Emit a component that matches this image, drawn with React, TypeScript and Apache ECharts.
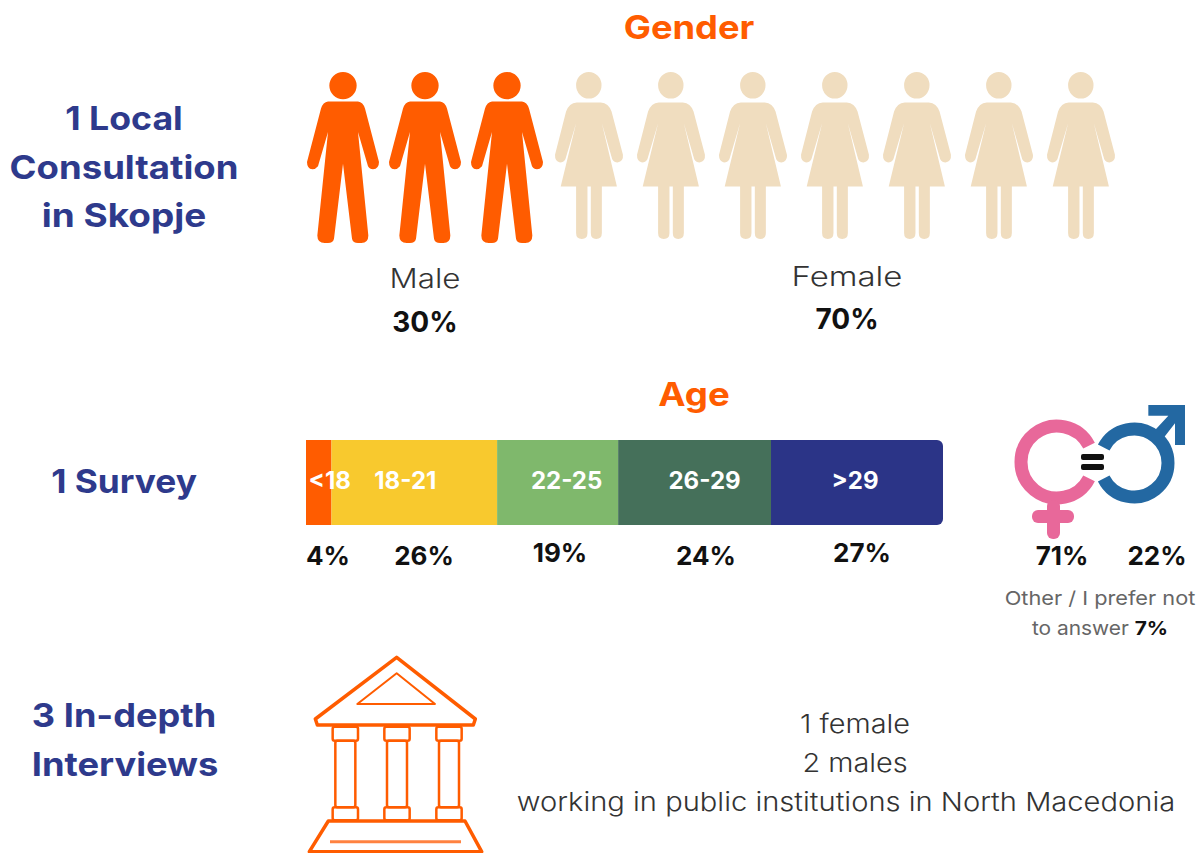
import React, { useEffect, useRef } from "react";
import * as echarts from "echarts";

const FONT = "Inter, 'Open Sans', sans-serif";
const ORANGE = "#FF5C00";
const NAVY = "#2E3A8C";

// data
const peopleSlots = ["p1", "p2", "p3", "p4", "p5", "p6", "p7", "p8", "p9", "p10"];
const malePeople = [1, 1, 1, null, null, null, null, null, null, null];
const femalePeople = [null, null, null, 1, 1, 1, 1, 1, 1, 1];
const genderNames = ["Male", "Female"];
const genderShares = [30, 70];
const ageGroups = ["<18", "18-21", "22-25", "26-29", ">29"];
const ageValues = [4, 26, 19, 24, 27];
const ageColors = [ORANGE, "#F8C92E", "#7FB86C", "#45705A", "#2B3487"];
const ageLabelOffsets = [11, -9, 9, 10, -2];
const agePercentX = [328, 424, 560, 706, 862];
const agePercentY = [555, 555, 552, 555, 552];
const interviewLines = ["1 female", "2 males", "working in public institutions in North Macedonia"];

const MALE_PATH =
  "path://M89,76a41,41 0 1,0 82,0a41,41 0 1,0 -82,0Z M85,124L175,124Q190,126 196,145L238,305Q238,325 220,327Q210,327 205,318L175,215L206,525Q206,547 185,548L175,548Q160,548 157,535L130,310L103,535Q100,548 85,548L75,548Q53,547 53,525L85,215L55,318Q48,327 38,327Q22,325 22,305L64,145Q70,126 85,124Z";
const FEMALE_PATH =
  "path://M828,76a38,40 0 1,0 76,0a38,40 0 1,0 -76,0Z M830,128L902,128Q925,130 934,155L968,285Q970,305 952,308Q942,308 936,298L905,190L950,380L905,380L905,520Q905,538 888,538Q872,538 872,520L872,380L862,380L862,520Q862,538 845,538Q828,538 828,520L828,380L782,380L828,190L796,298Q790,308 780,308Q764,305 765,285L798,155Q807,130 830,128Z";

const txt = (
  text: string,
  x: number,
  y: number,
  fontSize: number,
  fontWeight: number,
  fill: string,
  scaleX = 1,
) => ({
  type: "text",
  silent: true,
  x,
  y,
  scaleX,
  style: { text, x: 0, y: 0, align: "center", verticalAlign: "middle", fontSize, fontWeight, fill, fontFamily: FONT },
});

// helpers for the icons: zoom-crop coordinates to page coordinates
const iconA = (p: number[]) => [1000 + p[0] / 3, 395 + p[1] / 3];
const iconB = (p: number[]) => [300 + p[0] / 3, 645 + p[1] / 3];
const bStroke = (w = 3) => ({ fill: "none", stroke: ORANGE, lineWidth: w, lineJoin: "round" });

const buildingGraphics = () => {
  const out: any[] = [];
  const poly = (pts: number[][], w: number) => ({
    type: "polygon",
    silent: true,
    shape: { points: pts.map(iconB) },
    style: bStroke(w),
  });
  const box = (x0: number, y0: number, x1: number, y1: number, w = 2.5) => {
    const a = iconB([x0, y0]);
    const b = iconB([x1, y1]);
    return {
      type: "rect",
      silent: true,
      shape: { x: a[0], y: a[1], width: b[0] - a[0], height: b[1] - a[1], r: 2 },
      style: bStroke(w),
    };
  };
  out.push(poly([[290, 37], [526, 222], [520, 240], [52, 240], [46, 222]], 3.5));
  out.push(poly([[290, 85], [405, 177], [172, 177]], 2));
  [136, 291, 447].forEach((c) => {
    out.push(box(c - 38, 245, c + 38, 287));
    out.push(box(c - 30, 287, c + 30, 487));
    out.push(box(c - 38, 487, c + 38, 526));
  });
  out.push(poly([[85, 528], [495, 528], [545, 620], [28, 620]], 3.5));
  const l0 = iconB([90, 590]);
  const l1 = iconB([483, 590]);
  out.push({
    type: "line",
    silent: true,
    shape: { x1: l0[0], y1: l0[1], x2: l1[0], y2: l1[1] },
    style: { stroke: "#FF8240", lineWidth: 3 },
  });
  return out;
};

const genderSignGraphics = () => {
  const pink = "#E8689A";
  const blue = "#2368A2";
  const bar = (x: number, y: number, width: number, height: number, fill: string, r = 6) => ({
    type: "rect",
    silent: true,
    shape: { x, y, width, height, r },
    style: { fill },
  });
  const deg = Math.PI / 180;
  return [
    {
      type: "arc",
      silent: true,
      shape: { cx: 1057, cy: 462, r: 36, startAngle: 27 * deg, endAngle: 333 * deg, clockwise: true },
      style: { fill: "none", stroke: pink, lineWidth: 13 },
    },
    bar(1047, 500, 13, 39, pink),
    bar(1032, 510, 42, 13, pink),
    {
      type: "arc",
      silent: true,
      shape: { cx: 1134, cy: 463, r: 34, startAngle: 207 * deg, endAngle: 513 * deg, clockwise: true },
      style: { fill: "none", stroke: blue, lineWidth: 13 },
    },
    {
      type: "polygon",
      silent: true,
      shape: {
        points: [[445, 30], [555, 30], [555, 150], [525, 150], [525, 85], [490, 130], [466, 104], [505, 62], [445, 62]].map(iconA),
      },
      style: { fill: blue },
    },
    bar(1081, 454, 23, 6, "#111", 2),
    bar(1081, 464, 23, 6, "#111", 2),
  ];
};

export default function App() {
  const ref = useRef<HTMLDivElement>(null);
  useEffect(() => {
    const chart = echarts.init(ref.current!, null, { renderer: "svg" });
    chart.setOption({
      animation: false,
      backgroundColor: "#fff",
      grid: [
        { left: 302, top: 72, width: 820, height: 171 },
        { left: 306, top: 440, width: 637, height: 85 },
      ],
      xAxis: [
        { type: "category", gridIndex: 0, data: peopleSlots, show: false },
        { type: "value", gridIndex: 1, min: 0, max: 100, show: false },
      ],
      yAxis: [
        { type: "value", gridIndex: 0, min: 0, max: 1, show: false },
        { type: "category", gridIndex: 1, data: ["Age"], show: false },
      ],
      series: [
        {
          name: genderNames[0],
          type: "pictorialBar",
          xAxisIndex: 0,
          yAxisIndex: 0,
          data: malePeople,
          symbol: MALE_PATH,
          symbolSize: [72, 171],
          symbolPosition: "end",
          barGap: "-100%",
          barWidth: 72,
          itemStyle: { color: ORANGE },
          silent: true,
        },
        {
          name: genderNames[1],
          type: "pictorialBar",
          xAxisIndex: 0,
          yAxisIndex: 0,
          data: femalePeople,
          symbol: FEMALE_PATH,
          symbolSize: [68, 167],
          symbolPosition: "end",
          barGap: "-100%",
          barWidth: 72,
          itemStyle: { color: "#F0DDBF" },
          silent: true,
        },
        ...ageGroups.map((g, i) => ({
          name: g,
          type: "bar",
          stack: "age",
          xAxisIndex: 1,
          yAxisIndex: 1,
          barWidth: 85,
          data: [ageValues[i]],
          silent: true,
          itemStyle: {
            color: ageColors[i],
            borderRadius: i === ageGroups.length - 1 ? [0, 6, 6, 0] : 0,
          },
          label: {
            show: true,
            position: "inside",
            formatter: "{a}",
            offset: [ageLabelOffsets[i], -2],
            color: "#fff",
            fontFamily: FONT,
            fontWeight: 700,
            fontSize: 24,
          },
        })),
      ],
      graphic: {
        elements: [
          txt("Gender", 689, 27, 33, 700, ORANGE, 1.1),
          txt("Age", 694, 394, 33, 700, ORANGE, 1.11),
          txt("1 Local", 124, 118, 33, 700, NAVY, 1.08),
          txt("Consultation", 124, 167, 33, 700, NAVY, 1.107),
          txt("in Skopje", 124, 215, 33, 700, NAVY, 1.12),
          txt("1 Survey", 124, 481, 33, 700, NAVY, 1.07),
          txt("3 In-depth", 124, 715, 33, 700, NAVY, 1.095),
          txt("Interviews", 125, 764, 33, 700, NAVY, 1.1),
          txt(genderNames[0], 425, 278, 27, 300, "#333", 1.16),
          txt(`${genderShares[0]}%`, 425, 322, 28, 700, "#111"),
          txt(genderNames[1], 847, 276, 27, 300, "#333", 1.22),
          txt(`${genderShares[1]}%`, 847, 319, 28, 700, "#111"),
          ...ageValues.map((v, i) => txt(`${v}%`, agePercentX[i], agePercentY[i], 26, 700, "#111")),
          txt("71%", 1062, 555, 26, 700, "#111"),
          txt("22%", 1157, 555, 26, 700, "#111"),
          txt("Other / I prefer not", 1100, 598, 19, 400, "#666", 1.145),
          {
            type: "text",
            silent: true,
            x: 1100,
            y: 628,
            scaleX: 1.1,
            style: {
              text: "{a|to answer }{b|7%}",
              x: 0,
              y: 0,
              align: "center",
              verticalAlign: "middle",
              rich: {
                a: { fontSize: 19, fontWeight: 400, fill: "#666", color: "#666", fontFamily: FONT },
                b: { fontSize: 19, fontWeight: 700, fill: "#111", color: "#111", fontFamily: FONT },
              },
            },
          },
          txt(interviewLines[0], 855, 724, 26, 300, "#333", 1.11),
          txt(interviewLines[1], 855, 763, 26, 300, "#333", 1.11),
          txt(interviewLines[2], 846, 802, 26, 300, "#333", 1.12),
          ...genderSignGraphics(),
          ...buildingGraphics(),
        ],
      },
    });
    return () => chart.dispose();
  }, []);
  return (
    <div
      ref={ref}
      style={{ position: "absolute", left: 0, top: 0, width: 1202, height: 853 }}
    />
  );
}
